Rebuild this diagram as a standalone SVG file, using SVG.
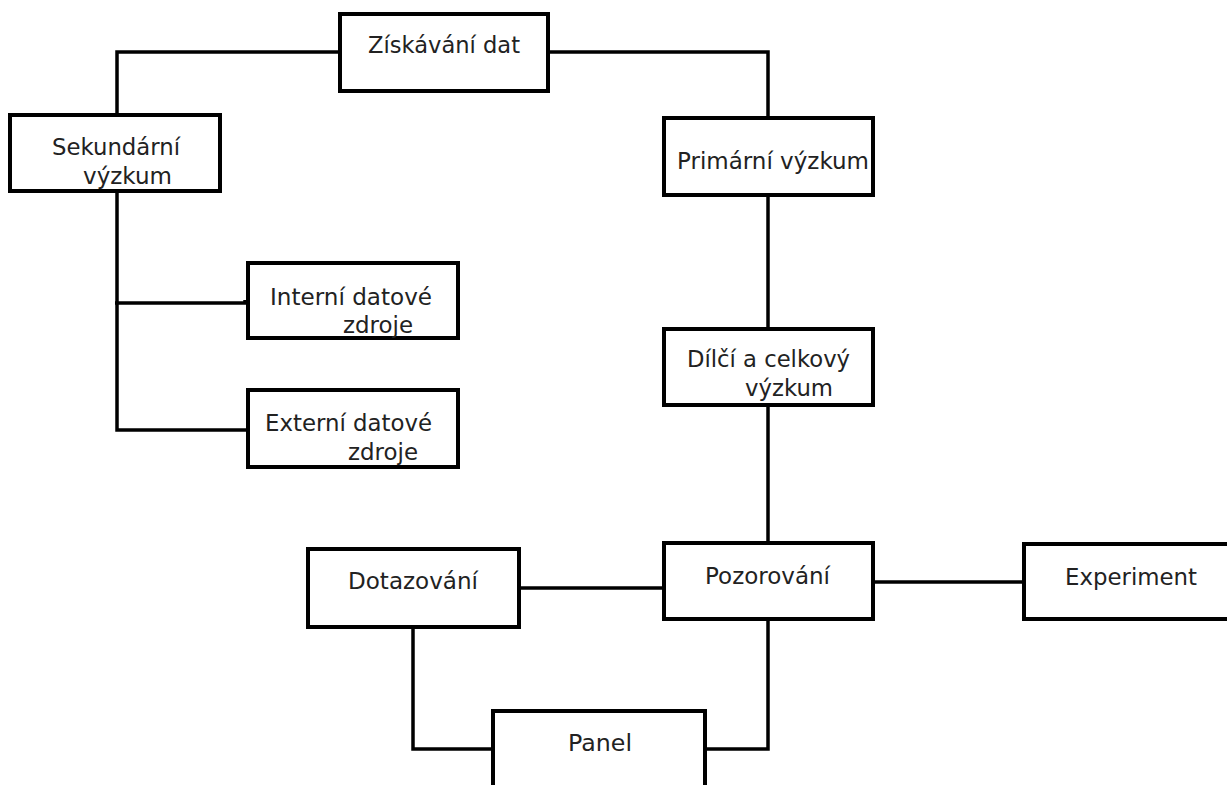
<svg xmlns="http://www.w3.org/2000/svg" width="1227" height="785" viewBox="0 0 1227 785">
<style>
.box{fill:#fff;stroke:#000;stroke-width:4}
.ln{fill:none;stroke:#000;stroke-width:3.5;stroke-linejoin:miter}
text{font-family:"DejaVu Sans","Liberation Sans",sans-serif;font-size:23px;fill:#222}
</style>
<rect width="1227" height="785" fill="#fff"/>
<g id="connectors">
<polyline class="ln" points="117,115 117,52 340,52"/>
<polyline class="ln" points="548,52 768,52 768,118"/>
<polyline class="ln" points="117,191 117,430 248,430"/>
<polyline class="ln" points="115,303 245,303 245,300"/>
<line class="ln" x1="768" y1="195" x2="768" y2="329"/>
<line class="ln" x1="768" y1="405" x2="768" y2="543"/>
<line class="ln" x1="873" y1="582" x2="1024" y2="582"/>
<line class="ln" x1="519" y1="588" x2="664" y2="588"/>
<polyline class="ln" points="413,627 413,749 493,749"/>
<polyline class="ln" points="768,619 768,749 705,749"/>
</g>
<g id="ziskavani">
<rect class="box" x="340" y="14" width="208" height="77"/>
<text x="368" y="53" textLength="152" lengthAdjust="spacingAndGlyphs">Získávání dat</text>
</g>
<g id="sekundarni">
<rect class="box" x="10" y="115" width="210" height="76"/>
<text x="52" y="155" textLength="128" lengthAdjust="spacingAndGlyphs">Sekundární</text>
<text x="83" y="184" textLength="89" lengthAdjust="spacingAndGlyphs">výzkum</text>
</g>
<g id="primarni">
<rect class="box" x="664" y="118" width="209" height="77"/>
<text x="677" y="169" textLength="192" lengthAdjust="spacingAndGlyphs">Primární výzkum</text>
</g>
<g id="interni">
<rect class="box" x="248" y="263" width="210" height="75"/>
<text x="270" y="305" textLength="162" lengthAdjust="spacingAndGlyphs">Interní datové</text>
<text x="343" y="333" textLength="70" lengthAdjust="spacingAndGlyphs">zdroje</text>
</g>
<g id="externi">
<rect class="box" x="248" y="390" width="210" height="77"/>
<text x="265" y="431" textLength="167" lengthAdjust="spacingAndGlyphs">Externí datové</text>
<text x="348" y="460" textLength="70" lengthAdjust="spacingAndGlyphs">zdroje</text>
</g>
<g id="dilci">
<rect class="box" x="664" y="329" width="209" height="76"/>
<text x="687" y="367" textLength="163" lengthAdjust="spacingAndGlyphs">Dílčí a celkový</text>
<text x="745" y="396" textLength="88" lengthAdjust="spacingAndGlyphs">výzkum</text>
</g>
<g id="pozorovani">
<rect class="box" x="664" y="543" width="209" height="76"/>
<text x="705" y="584" textLength="125" lengthAdjust="spacingAndGlyphs">Pozorování</text>
</g>
<g id="experiment">
<rect class="box" x="1024" y="544" width="206" height="75"/>
<text x="1065" y="585" textLength="132" lengthAdjust="spacingAndGlyphs">Experiment</text>
</g>
<g id="dotazovani">
<rect class="box" x="308" y="549" width="211" height="78"/>
<text x="348" y="589" textLength="130" lengthAdjust="spacingAndGlyphs">Dotazování</text>
</g>
<g id="panel">
<rect class="box" x="493" y="711" width="212" height="100"/>
<text x="568" y="751" textLength="64" lengthAdjust="spacingAndGlyphs">Panel</text>
</g>
</svg>
